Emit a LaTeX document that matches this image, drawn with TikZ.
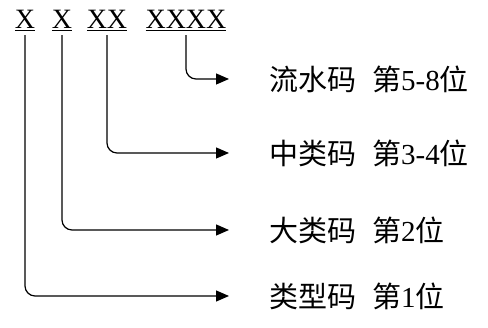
\documentclass[tikz,border=0pt]{standalone}
\usepackage{fontspec}
\setmainfont{Liberation Serif}
\newfontfamily\cjk{Noto Sans CJK SC}
\usetikzlibrary{arrows.meta, positioning}
\newcommand{\seglabel}[2]{{\cjk #1}\hspace{0.55em}{\cjk 第}#2{\cjk 位}}

\begin{document}
\begin{tikzpicture}[
    x = 1pt, y = 1pt,
    font = \fontsize{28}{32}\selectfont,
    digit/.style = {
      anchor = base, inner xsep = 0pt, inner ysep = 4pt
    },
    field/.style = {
      anchor = west, inner sep = 0pt, font = \fontsize{29}{33}\selectfont
    },
    link/.style = {
      line width = 1.2pt, rounded corners = 10pt,
      -{Triangle[length = 13pt, width = 11pt]}, shorten > = 40pt
    },
    ]
    \useasboundingbox (0,0) rectangle (488,328);

    % draw code digits
    \node  [digit]  (d1)  at  (25,299)   {\underline{X}};
    \node  [digit]  (d2)  at  (62,299)   {\underline{X}};
    \node  [digit]  (d3)  at  (107,299)  {\underline{XX}};
    \node  [digit]  (d4)  at  (186,299)  {\underline{XXXX}};

    % draw field labels
    \node  [field]  (f1)  at  (269,32)   {\seglabel{类型码}{1}};
    \node  [field]  (f2)  at  (269,98)   {\seglabel{大类码}{2}};
    \node  [field]  (f3)  at  (269,175)  {\seglabel{中类码}{3-4}};
    \node  [field]  (f4)  at  (269,249)  {\seglabel{流水码}{5-8}};

    % draw paths from digits to labels
    \foreach \i in {1, ..., 4}
    \draw  [link]  (d\i.south)  |-  (f\i.west);
\end{tikzpicture}
\end{document}
